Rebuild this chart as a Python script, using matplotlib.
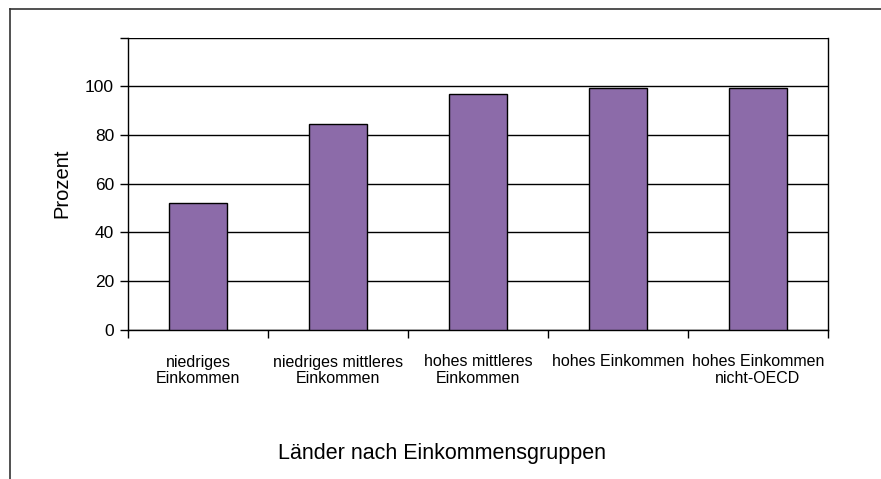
import matplotlib.pyplot as plt
from matplotlib.lines import Line2D

plt.rcParams['font.family'] = ['Liberation Sans', 'DejaVu Sans']

# data
gruppen = ['niedriges\nEinkommen', 'niedriges mittleres\nEinkommen',
           'hohes mittleres\nEinkommen', 'hohes Einkommen',
           'hohes Einkommen\nnicht-OECD']
prozent = [51.8, 84.5, 96.8, 99.3, 99.3]
y_ticks = [0, 20, 40, 60, 80, 100, 120]

W, H = 881, 479
fig = plt.figure(figsize=(W / 100, H / 100), dpi=100)
ax = fig.add_axes([128 / W, 1 - 329.5 / H, 700 / W, 292 / H])

x = list(range(len(gruppen)))
ax.bar(x, prozent, width=0.41, color='#8C6BA9', edgecolor='black',
       linewidth=1, zorder=3)

ax.set_xlim(-0.5, len(gruppen) - 0.5)
ax.set_ylim(0, 120)
ax.set_yticks(y_ticks)
ax.set_yticklabels([str(v) if v < 120 else '' for v in y_ticks], fontsize=12.5)
ax.yaxis.grid(True, color='black', linewidth=1, zorder=0)
ax.tick_params(axis='y', length=6, width=1, pad=4)

ax.set_xticks(x)
ax.set_xticklabels(gruppen, fontsize=11.5, va='top', linespacing=1.15)
ax.tick_params(axis='x', which='major', length=0, pad=18)
ax.set_xticks([i - 0.5 for i in range(len(gruppen) + 1)], minor=True)
ax.tick_params(axis='x', which='minor', length=6, width=1)

for s in ['left', 'bottom', 'right']:
    ax.spines[s].set_linewidth(1)
ax.spines['top'].set_visible(False)

ax.set_ylabel('Prozent', fontsize=14.5, labelpad=10)
fig.text(442 / W, 1 - 453 / H, 'Länder nach Einkommensgruppen',
         fontsize=15.5, ha='center', va='center')

# outer frame
fig.add_artist(Line2D([10 / W, 10 / W], [0, 1 - 9 / H], color='#333333', linewidth=1.2))
fig.add_artist(Line2D([10 / W, 1], [1 - 9 / H, 1 - 9 / H], color='#333333', linewidth=1.2))

fig.savefig('out.png', dpi=100)
